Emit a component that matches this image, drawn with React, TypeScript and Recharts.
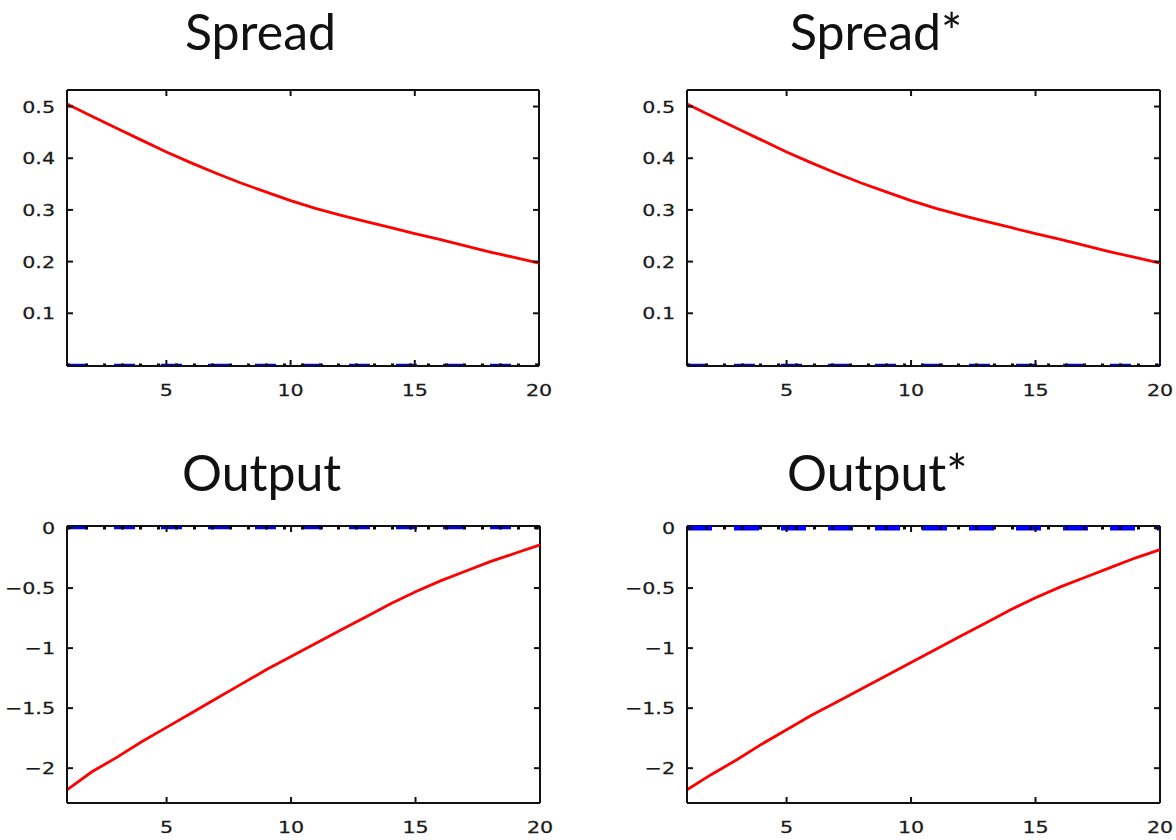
import React from "react";
import { LineChart, Line, XAxis, YAxis, ReferenceLine } from "recharts";

const periods = [1, 2, 3, 4, 5, 6, 7, 8, 9, 10, 11, 12, 13, 14, 15, 16, 17, 18, 19, 20];
const spread = [0.505, 0.481, 0.458, 0.435, 0.412, 0.391, 0.371, 0.352, 0.335, 0.318, 0.303, 0.29, 0.278, 0.266, 0.254, 0.243, 0.231, 0.219, 0.208, 0.197];
const spreadStar = [0.505, 0.481, 0.458, 0.435, 0.412, 0.391, 0.371, 0.352, 0.335, 0.318, 0.303, 0.29, 0.278, 0.266, 0.254, 0.243, 0.231, 0.219, 0.208, 0.197];
const output = [-2.18, -2.03, -1.91, -1.78, -1.66, -1.54, -1.42, -1.3, -1.18, -1.07, -0.96, -0.85, -0.74, -0.63, -0.53, -0.44, -0.36, -0.28, -0.21, -0.14];
const outputStar = [-2.18, -2.05, -1.93, -1.8, -1.68, -1.56, -1.45, -1.34, -1.23, -1.12, -1.01, -0.9, -0.79, -0.68, -0.58, -0.49, -0.41, -0.33, -0.25, -0.18];
const zeroLine = [0, 0, 0, 0, 0, 0, 0, 0, 0, 0, 0, 0, 0, 0, 0, 0, 0, 0, 0, 0];

const xTicks = [5, 10, 15, 20];
const spreadYTicks = [0.1, 0.2, 0.3, 0.4, 0.5];
const outputYTicks = [-2, -1.5, -1, -0.5, 0];
const titles = ["Spread", "Spread*", "Output", "Output*"];

const fmt = (v: number) => (v < 0 ? "\u2212" + String(Math.abs(v)) : String(v));

const TICK_FONT = "'DejaVu Sans', sans-serif";
const AX = "#111";

const makeXTick = (plotH: number) => (props: any) => {
  const { x, y, payload } = props;
  return (
    <g>
      <line x1={x} y1={y} x2={x} y2={y - 6} stroke={AX} strokeWidth={2} />
      <line x1={x} y1={y - plotH} x2={x} y2={y - plotH + 6} stroke={AX} strokeWidth={2} />
      <g transform={`translate(${x},${y + 30}) scale(1.25,1)`}>
        <text x={0} y={0} textAnchor="middle" fontFamily={TICK_FONT} fontSize={16.5} fill="#1a1a1a" stroke="#1a1a1a" strokeWidth={0.25}>
          {fmt(payload.value)}
        </text>
      </g>
    </g>
  );
};

const makeYTick = (plotW: number) => (props: any) => {
  const { x, y, payload } = props;
  return (
    <g>
      <line x1={x} y1={y} x2={x + 6} y2={y} stroke={AX} strokeWidth={2} />
      <line x1={x + plotW} y1={y} x2={x + plotW - 6} y2={y} stroke={AX} strokeWidth={2} />
      <g transform={`translate(${x - 12},${y + 6}) scale(1.25,1)`}>
        <text x={0} y={0} textAnchor="end" fontFamily={TICK_FONT} fontSize={16.5} fill="#1a1a1a" stroke="#1a1a1a" strokeWidth={0.25}>
          {fmt(payload.value)}
        </text>
      </g>
    </g>
  );
};

type PanelProps = {
  left: number;
  top: number;
  width: number;
  height: number;
  plotW: number;
  plotH: number;
  marginBottom: number;
  marginRight: number;
  values: number[];
  yDomain: [number, number];
  yTicks: number[];
  blueWidth: number;
  blueDash: string;
};

function Panel(p: PanelProps) {
  const data = periods.map((t, i) => ({ t, v: p.values[i], z: zeroLine[i] }));
  return (
    <div style={{ position: "absolute", left: p.left, top: p.top }}>
      <LineChart
        width={p.width}
        height={p.height}
        data={data}
        margin={{ top: 10, right: p.marginRight, bottom: p.marginBottom, left: 0 }}
      >
        <XAxis
          dataKey="t"
          type="number"
          domain={[1, 20]}
          ticks={xTicks}
          interval={0}
          tickSize={0}
          tickMargin={0}
          height={30}
          axisLine={{ stroke: AX, strokeWidth: 2 }}
          tickLine={false}
          tick={makeXTick(p.plotH)}
        />
        <YAxis
          type="number"
          domain={p.yDomain}
          ticks={p.yTicks}
          interval={0}
          tickSize={0}
          tickMargin={0}
          width={67}
          axisLine={{ stroke: AX, strokeWidth: 2 }}
          tickLine={false}
          tick={makeYTick(p.plotW)}
        />
        <ReferenceLine y={p.yDomain[1]} stroke={AX} strokeWidth={2} />
        <ReferenceLine x={20} stroke={AX} strokeWidth={2} />
        <Line
          dataKey="z"
          stroke="#0000ff"
          strokeWidth={p.blueWidth}
          strokeDasharray={p.blueDash}
          dot={false}
          isAnimationActive={false}
        />
        <Line
          dataKey="z"
          stroke="#000"
          strokeWidth={3}
          strokeDasharray="3 15"
          dot={false}
          isAnimationActive={false}
        />
        <Line dataKey="v" stroke="#ff0000" strokeWidth={2.8} dot={false} isAnimationActive={false} />
      </LineChart>
    </div>
  );
}

export default function App() {
  return (
    <div
      style={{
        position: "absolute",
        left: 0,
        top: 0,
        width: 1176,
        height: 840,
        overflow: "hidden",
        background: "#fff",
      }}
    >
      <Panel
        left={0}
        top={80}
        width={576}
        height={340}
        plotW={472}
        plotH={276}
        marginBottom={24}
        marginRight={37}
        values={spread}
        yDomain={[-0.002, 0.532]}
        yTicks={spreadYTicks}
        blueWidth={2.5}
        blueDash="21 26"
      />
      <Panel
        left={620}
        top={80}
        width={576}
        height={340}
        plotW={473}
        plotH={276}
        marginBottom={24}
        marginRight={36}
        values={spreadStar}
        yDomain={[-0.002, 0.532]}
        yTicks={spreadYTicks}
        blueWidth={2.5}
        blueDash="21 26"
      />
      <Panel
        left={0}
        top={516}
        width={576}
        height={324}
        plotW={473}
        plotH={277}
        marginBottom={7}
        marginRight={36}
        values={output}
        yDomain={[-2.29, 0.017]}
        yTicks={outputYTicks}
        blueWidth={2.5}
        blueDash="21 26"
      />
      <Panel
        left={620}
        top={516}
        width={576}
        height={324}
        plotW={473}
        plotH={277}
        marginBottom={7}
        marginRight={36}
        values={outputStar}
        yDomain={[-2.29, 0.017]}
        yTicks={outputYTicks}
        blueWidth={5}
        blueDash="25 22"
      />
      <svg
        width={1176}
        height={840}
        style={{ position: "absolute", left: 0, top: 0, pointerEvents: "none" }}
      >
        <text x={185} y={50} fontFamily="Lato, sans-serif" fontSize={50} fill="#111">
          {titles[0]}
        </text>
        <text x={790} y={50} fontFamily="Lato, sans-serif" fontSize={50} fill="#111">
          {titles[1]}
        </text>
        <text x={182} y={491} fontFamily="Lato, sans-serif" fontSize={50} fill="#111">
          {titles[2]}
        </text>
        <text x={787} y={491} fontFamily="Lato, sans-serif" fontSize={50} fill="#111">
          {titles[3]}
        </text>
      </svg>
    </div>
  );
}
